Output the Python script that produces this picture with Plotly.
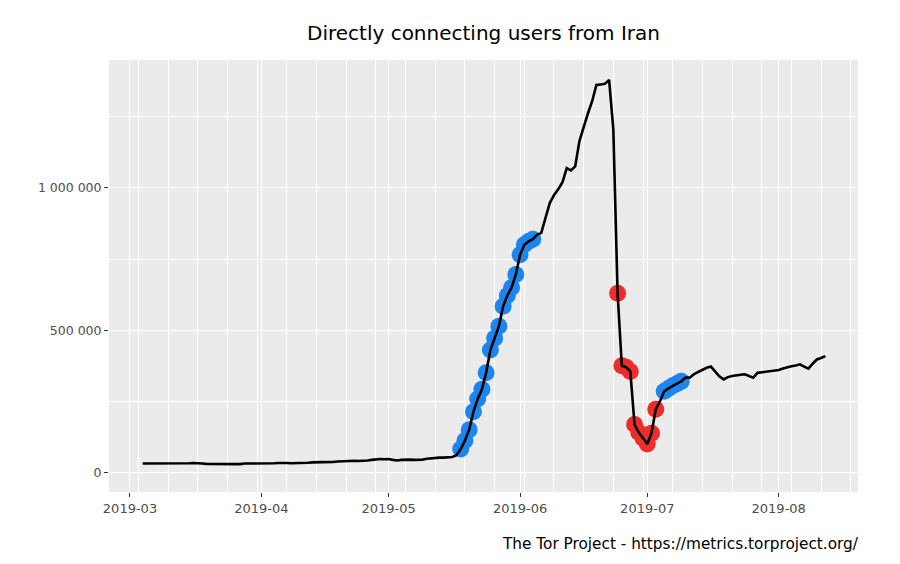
import pandas as pd
import plotly.graph_objects as go

# Daily directly connecting users from Iran, in thousands (2019-03-04 .. 2019-08-12)
start_date = "2019-03-04"
users_k = [
    31, 31, 31, 30, 31, 31, 30, 30, 31, 32, 31, 32, 33, 33, 31,
    30, 30, 29, 29, 28, 28, 29, 30, 29, 31, 31, 30, 31, 32, 31,
    31, 32, 33, 34, 33, 32, 32, 33, 34, 34, 35, 35, 35, 35, 36,
    37, 38, 39, 38, 40, 41, 40, 40, 42, 44, 46, 47, 46, 47, 44,
    42, 44, 45, 45, 44, 44, 45, 48, 50, 51, 52, 52, 53, 54, 60,
    82, 112, 150, 213, 258, 292, 350, 430, 472, 514, 584, 622, 650, 696, 765,
    800, 812, 820,
    835, 842, 895, 947, 975, 995, 1020, 1070, 1062, 1076, 1165, 1215, 1262, 1305, 1362,
    1364, 1366, 1380, 1205,
    630, 375, 370, 355, 168, 140, 120, 100, 138, 222,
    250, 285, 295, 305, 312, 320,
    333, 333, 345, 353, 362, 368, 372, 355, 338, 327,
    335, 339, 340, 343, 345, 340, 333, 350, 352, 354,
    356, 357, 360, 365, 370, 373, 376, 380, 372, 365,
    382, 397, 402, 409,
]

# Detected events (start, end)
upturn_periods = [("2019-05-18", "2019-06-04"), ("2019-07-05", "2019-07-09")]
downturn_periods = [("2019-06-24", "2019-07-03")]

y_tickvals = [0, 500000, 1000000]
y_ticktext = ["0", "500 000", "1 000 000"]

title_text = "Directly connecting users from Iran"
caption_text = "The Tor Project - https://metrics.torproject.org/"

dates = pd.date_range(start_date, periods=len(users_k), freq="D")
users = pd.Series([v * 1000 for v in users_k], index=dates)


def pick(periods):
    parts = [users[a:b] for a, b in periods]
    return pd.concat(parts)


up = pick(upturn_periods)
down = pick(downturn_periods)

fig = go.Figure()

fig.add_trace(go.Scatter(
    x=up.index, y=up.values, mode="markers",
    marker=dict(size=17, color="#1C86EE"),
    hoverinfo="skip", showlegend=False
))
fig.add_trace(go.Scatter(
    x=down.index, y=down.values, mode="markers",
    marker=dict(size=17, color="#EE2C2C"),
    hoverinfo="skip", showlegend=False
))
fig.add_trace(go.Scatter(
    x=users.index, y=users.values, mode="lines",
    line=dict(color="black", width=2.6),
    showlegend=False
))

fig.update_layout(
    width=900,
    height=564,
    paper_bgcolor="white",
    plot_bgcolor="#EBEBEB",
    margin=dict(l=109, r=42, t=60, b=72),
    font=dict(family="DejaVu Sans"),
    title=dict(
        text=title_text, x=0.5, xref="paper", xanchor="center",
        y=1 - 33 / 564, yref="container", yanchor="middle",
        font=dict(family="DejaVu Sans", size=20, color="black"),
    ),
    xaxis=dict(
        type="date",
        range=["2019-02-24 01:12", "2019-08-19 16:48"],
        tick0="2019-03-01", dtick="M1", tickformat="%Y-%m",
        showgrid=True, gridcolor="white", gridwidth=1.4,
        ticks="outside", ticklen=4, tickcolor="#333333", tickwidth=1,
        tickfont=dict(family="DejaVu Sans", size=13, color="#4D4D4D"),
        zeroline=False, showline=False,
        minor=dict(tickmode="linear", tick0="2019-03-03", dtick=7 * 86400000,
                   showgrid=True, gridcolor="white", gridwidth=0.7, ticks=""),
    ),
    yaxis=dict(
        range=[-69000, 1450000],
        tickmode="array", tickvals=y_tickvals, ticktext=y_ticktext,
        showgrid=True, gridcolor="white", gridwidth=1.4,
        ticks="outside", ticklen=4, tickcolor="#333333", tickwidth=1,
        tickfont=dict(family="DejaVu Sans", size=12.5, color="#4D4D4D"),
        zeroline=False, showline=False,
        minor=dict(tickmode="linear", tick0=0, dtick=250000,
                   showgrid=True, gridcolor="white", gridwidth=0.7, ticks=""),
    ),
    annotations=[dict(
        text=caption_text, xref="paper", yref="paper", x=1, y=-0.095,
        xanchor="right", yanchor="top", showarrow=False, xshift=3,
        font=dict(family="DejaVu Sans", size=15.3, color="black"),
    )],
)

fig.write_html(
    "out.html",
    config={"displayModeBar": False},
    post_script="document.body.style.margin='0';",
)
